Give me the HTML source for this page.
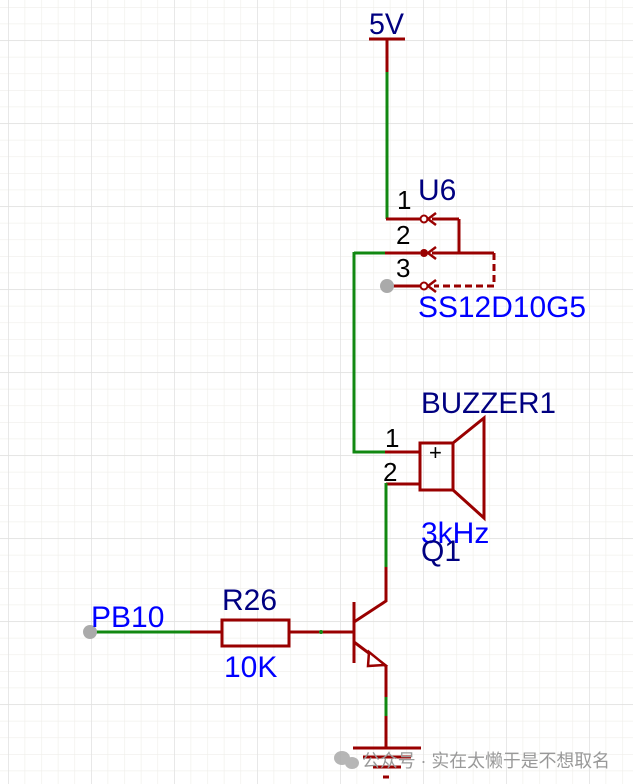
<!DOCTYPE html>
<html><head><meta charset="utf-8"><style>
html,body{margin:0;padding:0;background:#fff;}
svg{display:block}
text{font-family:"Liberation Sans","Noto Sans CJK SC",sans-serif;}
</style></head><body>
<svg width="633" height="784" viewBox="0 0 633 784" xmlns="http://www.w3.org/2000/svg">
<defs>
<pattern id="g" x="8" y="7" width="16.6" height="16.6" patternUnits="userSpaceOnUse">
<path d="M0 0H16.6M0 0V16.6" stroke="#efeee9" stroke-width="1.2" fill="none"/>
</pattern>
<pattern id="G" x="8" y="40" width="83" height="83" patternUnits="userSpaceOnUse">
<path d="M0 0H83M0 0V83" stroke="#e0e0e0" stroke-width="1.4" fill="none"/>
</pattern>
</defs>
<rect width="633" height="784" fill="url(#g)"/>
<rect width="633" height="784" fill="url(#G)"/>
<g fill="none" stroke-width="3" stroke-linecap="butt">
<path d="M369 39H405M387 39V72" stroke="#990000"/>
<path d="M387 72V219" stroke="#118811"/>
<path d="M386 219H420" stroke="#990000"/>
<circle cx="424" cy="219" r="3.5" stroke="#990000" stroke-width="2" fill="#fff"/>
<path d="M459 219V253M459 219H432M494 253H432" stroke="#990000"/>
<path d="M436 213L428 219L436 225M436 247L428 253L436 259" stroke="#990000" stroke-width="2.5"/>
<path d="M354 253H386" stroke="#118811"/>
<path d="M385 253H420" stroke="#990000"/>
<circle cx="424" cy="253" r="4" fill="#990000" stroke="none"/>
<path d="M494 253V286H434" stroke="#990000" stroke-dasharray="7,4"/>
<path d="M436 280L428 286L436 292" stroke="#990000" stroke-width="2.5"/>
<path d="M388 286H420" stroke="#990000"/>
<circle cx="424" cy="286" r="3.5" stroke="#990000" stroke-width="2" fill="#fff"/>
<circle cx="387" cy="286" r="7" fill="#aaaaaa" stroke="none"/>
<path d="M354 252V452H386" stroke="#118811"/>
<path d="M385 452H420M386 484H420" stroke="#990000"/>
<rect x="420" y="443" width="33" height="47" stroke="#990000"/>
<path d="M453 443L484 418V518L453 490" stroke="#990000"/>
<path d="M386 483V568" stroke="#118811"/>
<path d="M386 567V601L354 622M354 602V663M354 642L386 666V698" stroke="#990000"/>
<path d="M369 652L385 665L368 666Z" stroke="#990000" stroke-width="2.5" fill="#fff"/>
<path d="M386 697V717" stroke="#118811"/>
<path d="M386 716V748M353 748H421M363 757H411M373 767H401M383 777H389" stroke="#990000"/>
<path d="M90 632H190" stroke="#118811"/>
<path d="M190 632H222M289 632H354" stroke="#990000"/>
<rect x="222" y="620" width="67" height="26" stroke="#990000"/>
<circle cx="90" cy="632" r="7" fill="#aaaaaa" stroke="none"/>
<circle cx="321" cy="632" r="2" fill="#118811" stroke="none"/>
</g>
<g font-size="30">
<text x="369" y="34" fill="#000080" textLength="35" lengthAdjust="spacingAndGlyphs">5V</text>
<text x="418" y="200" fill="#000080">U6</text>
<text x="418" y="317" fill="#0000ff" textLength="168" lengthAdjust="spacingAndGlyphs">SS12D10G5</text>
<text x="421" y="413" fill="#000080" textLength="135" lengthAdjust="spacingAndGlyphs">BUZZER1</text>
<text x="421" y="543" fill="#0000ff">3kHz</text>
<text x="421" y="561" fill="#000080">Q1</text>
<text x="222" y="610" fill="#000080">R26</text>
<text x="224" y="677" fill="#0000ff">10K</text>
<text x="91" y="627" fill="#0000ff">PB10</text>
</g>
<g font-size="26" fill="#000">
<text x="397" y="209">1</text>
<text x="396" y="244">2</text>
<text x="396" y="277">3</text>
<text x="385" y="447">1</text>
<text x="383" y="481">2</text>
</g>
<text x="429" y="460" font-size="22" fill="#000">+</text>
<g fill="#aaaaaa" opacity="0.85">
<ellipse cx="342" cy="758" rx="8" ry="7"/>
<ellipse cx="352" cy="763" rx="7" ry="6"/>
</g>
<text x="362" y="767" font-size="18" fill="#999999" textLength="248" lengthAdjust="spacingAndGlyphs">公众号 · 实在太懒于是不想取名</text>
</svg>
</body></html>
